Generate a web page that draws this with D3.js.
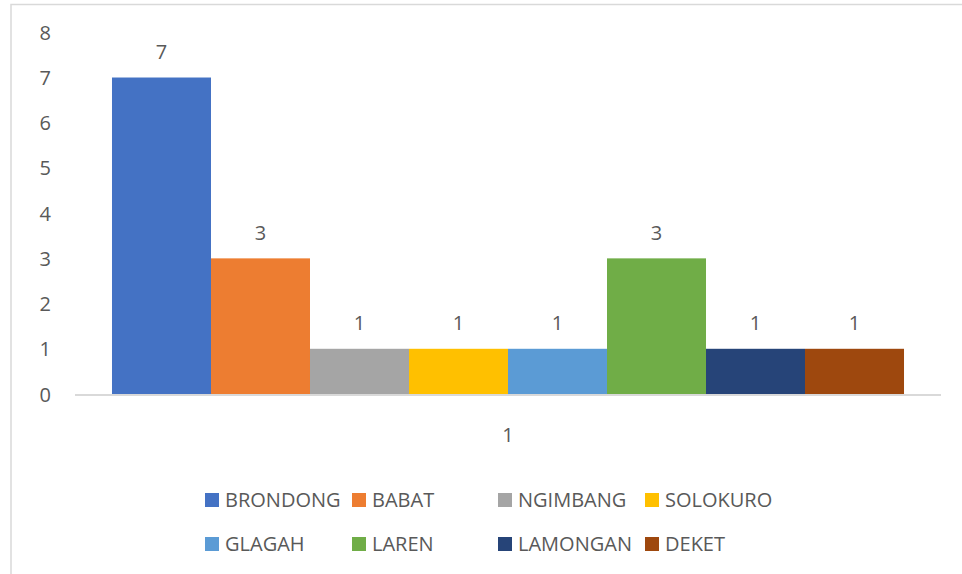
<!DOCTYPE html>
<html><head><meta charset="utf-8">
<script src="https://cdn.jsdelivr.net/npm/d3@7/dist/d3.min.js"></script>
<style>body{margin:0;background:#fff}svg{display:block}text{font-family:"Open Sans",sans-serif;fill:#595959}</style>
</head><body>
<svg id="c" width="962" height="574"></svg>
<script>
const categories = ["1"];
const seriesNames = ["BRONDONG","BABAT","NGIMBANG","SOLOKURO","GLAGAH","LAREN","LAMONGAN","DEKET"];
const seriesValues = [7,3,1,1,1,3,1,1];
const seriesColors = ["#4472C4","#ED7D31","#A5A5A5","#FFC000","#5B9BD5","#70AD47","#264478","#9E480E"];
const yTicks = [0,1,2,3,4,5,6,7,8];

const svg = d3.select("#c");
svg.append("rect").attr("x",11).attr("y",4.5).attr("width",1000).attr("height",1000)
  .attr("fill","none").attr("stroke","#d9d9d9").attr("stroke-width",1.5);

const x0 = d3.scaleBand().domain(categories).range([75,941]).paddingInner(0).paddingOuter(0.0467);
const x1 = d3.scaleBand().domain(seriesNames).range([0,x0.bandwidth()]).padding(0);
const y = d3.scaleLinear().domain([0,8]).range([394,32.3]);

svg.append("g").selectAll("text").data(yTicks).join("text")
  .attr("x",51).attr("y",d=>y(d)+7.5).attr("text-anchor","end").attr("font-size",20).text(d=>d);

const g = svg.append("g").attr("transform",`translate(${x0(categories[0])},0)`);
g.selectAll("rect").data(seriesNames).join("rect")
  .attr("x",d=>x1(d)).attr("width",x1.bandwidth())
  .attr("y",(d,i)=>y(seriesValues[i])).attr("height",(d,i)=>y(0)-y(seriesValues[i]))
  .attr("fill",(d,i)=>seriesColors[i]);
g.selectAll("text.lbl").data(seriesNames).join("text").attr("class","lbl")
  .attr("x",d=>x1(d)+x1.bandwidth()/2).attr("y",(d,i)=>y(seriesValues[i])-18.5)
  .attr("text-anchor","middle").attr("font-size",20).text((d,i)=>seriesValues[i]);

svg.append("line").attr("x1",75).attr("x2",941).attr("y1",y(0)+1).attr("y2",y(0)+1)
  .attr("stroke","#d9d9d9").attr("stroke-width",2);
svg.append("g").selectAll("text").data(categories).join("text")
  .attr("x",d=>x0(d)+x0.bandwidth()/2).attr("y",442).attr("text-anchor","middle").attr("font-size",20).text(d=>d);

const colX = [205,352,498,645], rowY = [507,551];
const lg = svg.append("g");
seriesNames.forEach((n,i)=>{
  const cx = colX[i%4], by = rowY[Math.floor(i/4)];
  lg.append("rect").attr("x",cx).attr("y",by-14).attr("width",14).attr("height",14).attr("fill",seriesColors[i]);
  lg.append("text").attr("x",cx+20).attr("y",by).attr("font-size",20).text(n);
});
</script>
</body></html>
